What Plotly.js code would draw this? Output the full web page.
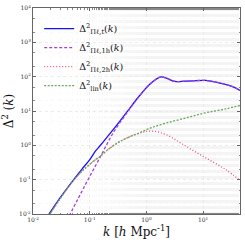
<!DOCTYPE html>
<html><head><meta charset="utf-8">
<script src="https://cdn.plot.ly/plotly-3.0.1.min.js"></script>
<style>html,body{margin:0;padding:0;background:#fff}#c{width:245px;height:245px}</style>
</head><body><div id="c"></div>
<script>
const kTotal = [0.0191,0.0302,0.0457,0.0724,0.102,0.126,0.151,0.263,0.447,0.759,1.148,1.738,2.239,3.162,5.012,11.22,19.05,33.11,44.67];
const dTotal = [0.0100,0.0302,0.0759,0.200,0.398,0.676,0.955,2.95,9.12,28.2,60.3,97.7,91.2,72.4,74.1,77.6,66.1,51.3,39.8];
const k1h = [0.0437,0.0794,0.151,0.263,0.447,0.631,0.891,1.148,1.738,2.239,3.162,5.012,11.22,19.05,33.11,44.67];
const d1h = [0.00891,0.0603,0.437,2.40,8.51,18.6,38.0,58.9,97.7,91.2,72.4,74.1,77.6,66.1,51.3,39.8];
const k2h = [0.0191,0.0302,0.0501,0.0794,0.126,0.151,0.2,0.316,0.447,0.794,1.318,2.239,5.012,11.22,25.12,44.67];
const d2h = [0.00891,0.0282,0.0891,0.200,0.380,0.468,0.708,1.20,1.62,2.34,2.57,2.04,0.933,0.427,0.195,0.0955];
const kLin = [0.0191,0.0302,0.0501,0.0794,0.126,0.151,0.2,0.316,0.447,0.794,1.259,2.239,5.012,11.22,25.12,44.67];
const dLin = [0.00891,0.0282,0.0891,0.200,0.380,0.468,0.708,1.20,1.62,2.40,3.31,4.47,6.31,8.91,11.5,14.5];
const names = ['Δ<sup>2</sup><sub>Πℓ,t</sub>(<i>k</i>)','Δ<sup>2</sup><sub>Πℓ,1h</sub>(<i>k</i>)','Δ<sup>2</sup><sub>Πℓ,2h</sub>(<i>k</i>)','Δ<sup>2</sup><sub>lin</sub>(<i>k</i>)'];
const xTickVals = [0.01,0.1,1,10];
const xTickText = ['10<sup>-2</sup>','10<sup>-1</sup>','10<sup>0</sup>','10<sup>1</sup>'];
const yTickVals = [0.01,0.1,1,10,100,1000,10000];
const yTickText = ['10<sup>-2</sup>','10<sup>-1</sup>','10<sup>0</sup>','10<sup>1</sup>','10<sup>2</sup>','10<sup>3</sup>','10<sup>4</sup>'];

const serif = 'DejaVu Serif, Liberation Serif, serif';
const traces = [
 {x:kTotal,y:dTotal,name:names[0],mode:'lines',line:{color:'#1515f0',width:1.3,shape:'spline'}},
 {x:k1h,y:d1h,name:names[1],mode:'lines',line:{color:'#a43ee0',width:1.3,dash:'3px,2px',shape:'spline'}},
 {x:k2h,y:d2h,name:names[2],mode:'lines',line:{color:'#e8557a',width:1.3,dash:'1px,2px',shape:'spline'}},
 {x:kLin,y:dLin,name:names[3],mode:'lines',line:{color:'#6aa55a',width:1.3,dash:'2px,1.5px',shape:'spline'}}
];
const ax = {
 type:'log', showline:true, mirror:'ticks', linecolor:'#666', linewidth:1,
 ticks:'inside', ticklen:3, tickcolor:'#666',
 showgrid:true, gridcolor:'#e2e2e2', griddash:'dot', gridwidth:0.6,
 minor:{showgrid:true, gridcolor:'#f3f3f3', griddash:'dot', gridwidth:0.5, ticks:'inside', ticklen:1.5, tickcolor:'#888'},
 tickfont:{size:6, family:serif, color:'#333'}, zeroline:false
};
const layout = {
 width:245, height:245, paper_bgcolor:'#fff', plot_bgcolor:'#fff',
 margin:{l:33, r:5, t:8, b:31},
 showlegend:true,
 legend:{x:0.03, y:0.97, xanchor:'left', yanchor:'top', bgcolor:'rgba(0,0,0,0)', font:{size:9.5, family:serif, color:'#111'}, tracegroupgap:0},
 xaxis:Object.assign({}, ax, {range:[-2, 1.65], tickvals:xTickVals, ticktext:xTickText,
   title:{text:'<i>k</i> [<i>h</i> Mpc<sup>-1</sup>]', font:{size:12, family:serif, color:'#111'}, standoff:4}}),
 yaxis:Object.assign({}, ax, {range:[-2, 4], tickvals:yTickVals, ticktext:yTickText,
   title:{text:'Δ<sup>2</sup> (<i>k</i>)', font:{size:12, family:serif, color:'#111'}, standoff:4}})
};
Plotly.newPlot('c', traces, layout, {staticPlot:true, displayModeBar:false});
</script></body></html>
